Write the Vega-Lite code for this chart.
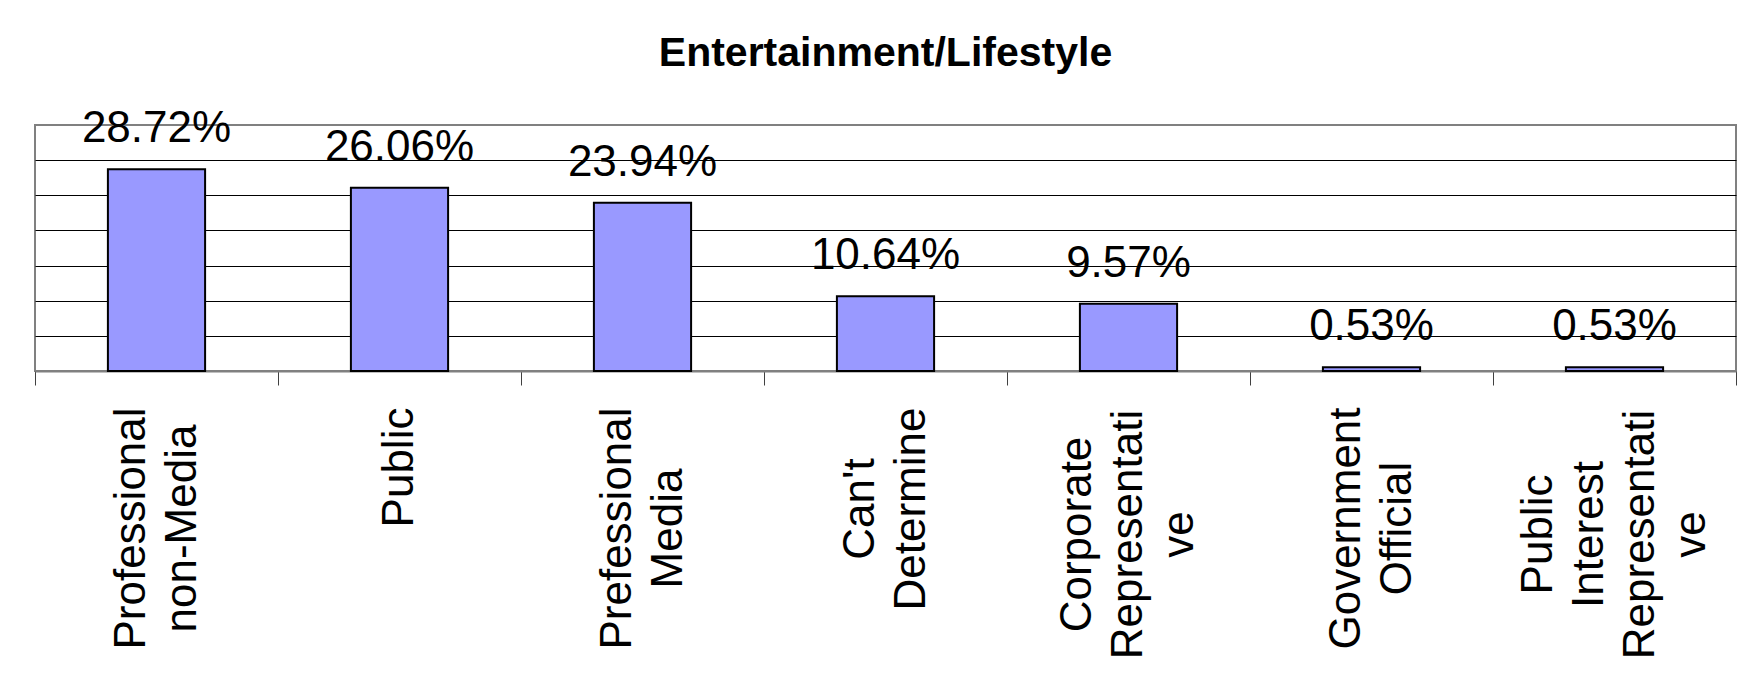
{
  "$schema": "https://vega.github.io/schema/vega-lite/v6.json",
  "width": 1701,
  "height": 246,
  "autosize": {"type": "none"},
  "padding": {"left": 35, "top": 125, "right": 21, "bottom": 316},
  "background": "white",
  "title": {
    "text": "Entertainment/Lifestyle",
    "font": "Liberation Sans",
    "fontSize": 41,
    "fontWeight": "bold",
    "color": "black",
    "anchor": "middle",
    "baseline": "alphabetic",
    "offset": 0
  },
  "data": {
    "values": [
      {"category": "Professional|non-Media", "share": 0.2872},
      {"category": "Public", "share": 0.2606},
      {"category": "Prefessional|Media", "share": 0.2394},
      {"category": "Can't|Determine", "share": 0.1064},
      {"category": "Corporate|Representati|ve", "share": 0.0957},
      {"category": "Government|Official", "share": 0.0053},
      {"category": "Public|Interest|Representati|ve", "share": 0.0053}
    ]
  },
  "encoding": {
    "x": {
      "field": "category",
      "type": "nominal",
      "sort": null,
      "scale": {"paddingInner": 0, "paddingOuter": 0},
      "axis": {
        "title": null,
        "labelAngle": -90,
        "labelAlign": "center",
        "labelBaseline": "middle",
        "labelExpr": "split(datum.label, '|')",
        "labelFont": "Liberation Sans",
        "labelFontSize": 44,
        "labelLineHeight": 51,
        "labelColor": "black",
        "labelPadding": {
          "condition": [
            {"test": "datum.label == 'Public'", "value": 82},
            {"test": "datum.label == \"Can't|Determine\"", "value": 123.5},
            {"test": "length(split(datum.label, '|')) >= 3", "value": 149}
          ],
          "value": 143
        },
        "labelLimit": 0,
        "labelOffset": {
          "condition": [
            {"test": "length(split(datum.label, '|')) == 4", "value": -76.5},
            {"test": "length(split(datum.label, '|')) == 3", "value": -51},
            {"test": "length(split(datum.label, '|')) == 2", "value": -25.5}
          ],
          "value": 0
        },
        "tickBand": "extent",
        "tickSize": 14,
        "tickColor": "#404040",
        "tickWidth": 1,
        "domainColor": "#808080",
        "domainWidth": 2,
        "grid": false
      }
    },
    "y": {
      "field": "share",
      "type": "quantitative",
      "scale": {"domain": [0, 0.35], "nice": false},
      "axis": {
        "title": null,
        "labels": false,
        "ticks": false,
        "domain": false,
        "values": [0.05, 0.1, 0.15, 0.2, 0.25, 0.3],
        "grid": true,
        "gridColor": "black",
        "gridWidth": 1,
        "gridOpacity": 1,
        "minExtent": 0
      }
    }
  },
  "layer": [
    {
      "mark": {
        "type": "bar",
        "width": {"band": 0.4},
        "fill": "#9999FF",
        "stroke": "black",
        "strokeWidth": 2
      }
    },
    {
      "mark": {
        "type": "text",
        "font": "Liberation Sans",
        "fontSize": 44,
        "baseline": "alphabetic",
        "align": "center",
        "dy": -27,
        "color": "black"
      },
      "encoding": {
        "text": {"field": "share", "type": "quantitative", "format": ".2%"}
      }
    }
  ],
  "config": {
    "view": {"stroke": "#808080", "strokeWidth": 2}
  }
}
